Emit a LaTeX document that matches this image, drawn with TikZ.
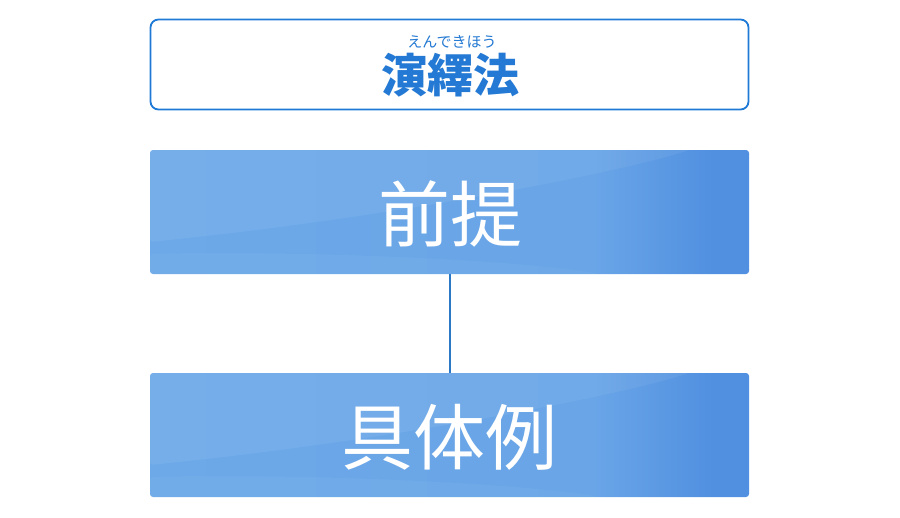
\documentclass[tikz,border=0pt]{standalone}
\usepackage{fontspec}
\newfontfamily\jp{Noto Sans CJK JP}
\definecolor{titleblue}{HTML}{1F7AD7}
\definecolor{titletext}{HTML}{2379D3}
\definecolor{linkblue}{HTML}{2A78C6}
\definecolor{boxlight}{HTML}{6DA9E8}
\definecolor{boxmid}{HTML}{69A5E7}
\definecolor{boxdark}{HTML}{5190E0}
\pgfdeclarehorizontalshading{boxshade}{100bp}{color(0bp)=(boxlight); color(25bp)=(boxlight); color(62bp)=(boxmid); color(72bp)=(boxdark); color(100bp)=(boxdark)}
\tikzset{
  titlebox/.style={draw=titleblue, line width=1.8pt, rounded corners=8pt, fill=white,
    minimum width=598pt, minimum height=90pt, inner sep=0pt},
  bluebox/.style={shading=boxshade, rounded corners=3pt, minimum width=599pt,
    minimum height=124pt, inner sep=0pt,
    path picture={
      \fill[white, opacity=0.06]
        ([yshift=-30pt]path picture bounding box.west)
        .. controls ([xshift=250pt,yshift=-5pt]path picture bounding box.west)
        and ([xshift=-120pt,yshift=-20pt]path picture bounding box.north east)
        .. ([xshift=-60pt]path picture bounding box.north east)
        -- (path picture bounding box.north west) -- cycle;
      \fill[white, opacity=0.04]
        ([yshift=20pt]path picture bounding box.south west)
        .. controls ([xshift=200pt,yshift=24pt]path picture bounding box.south west)
        and ([xshift=-200pt,yshift=10pt]path picture bounding box.south east)
        .. ([xshift=-150pt]path picture bounding box.south east)
        -- (path picture bounding box.south west) -- cycle;
    }},
  bigtext/.style={text=white, font=\jp\fontsize{72}{80}\selectfont, inner sep=0pt},
  link/.style={draw=linkblue, line width=2pt}
}
\begin{document}
\begin{tikzpicture}[x=1pt,y=-1pt]
\useasboundingbox (0,0) rectangle (900,517);
\node[titlebox] (title) at (449.5,64.5) {};
\node[text=titletext, font=\jp\fontsize{15}{16}\selectfont, inner sep=0pt] (ruby) at (452,42) {えんできほう};
\node[text=titletext, font=\jp\bfseries\fontsize{46}{50}\selectfont, inner sep=0pt] (kanji) at (450,75) {演繹法};
\node[bluebox] (premise) at (449.5,212) {};
\node[bigtext] (premisetext) at (450,214) {前提};
\node[bluebox] (example) at (449.5,435) {};
\node[bigtext] (exampletext) at (449,437) {具体例};
\draw[link] (premise.south) -- (example.north);
\end{tikzpicture}
\end{document}
